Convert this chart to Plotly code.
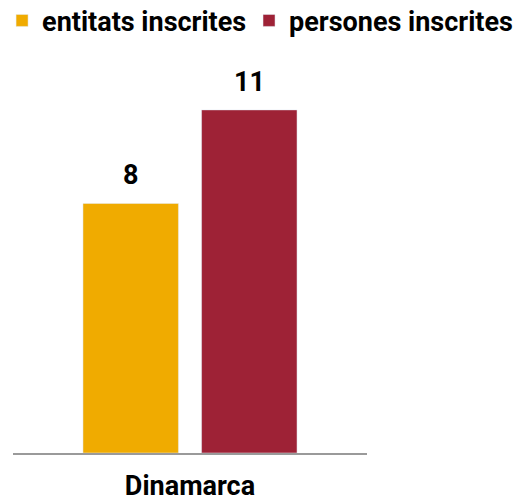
import plotly.graph_objects as go

categories = ["Dinamarca"]
series_names = ["entitats inscrites", "persones inscrites"]
entitats = [8]
persones = [11]
colors = ["#F0AB00", "#9E2236"]

font_bold = dict(family="Roboto", size=27, color="#000000", weight="bold")

fig = go.Figure()
fig.add_trace(go.Bar(x=categories, y=entitats, name=series_names[0],
                     marker_color=colors[0], legend="legend"))
fig.add_trace(go.Bar(x=categories, y=persones, name=series_names[1],
                     marker_color=colors[1], legend="legend2"))

for vals, shift in [(entitats, -59), (persones, 59)]:
    for c, v in zip(categories, vals):
        fig.add_annotation(x=c, y=v, text=str(v), showarrow=False, yanchor="bottom",
                           xshift=shift, yshift=10, font=font_bold)

legend_common = dict(orientation="h", yref="container", y=0.958, yanchor="middle",
                     xref="container", font=font_bold,
                     itemclick=False, itemdoubleclick=False, bgcolor="rgba(0,0,0,0)")

fig.update_layout(
    width=516, height=497,
    margin=dict(l=13, r=149, t=60, b=44, autoexpand=False),
    paper_bgcolor="white", plot_bgcolor="white",
    barmode="group", bargap=0.33, bargroupgap=0.195,
    showlegend=True,
    legend=dict(legend_common, x=0.004, xanchor="left"),
    legend2=dict(legend_common, x=0.4826, xanchor="left"),
    xaxis=dict(showline=True, linecolor="#9a9a9a", linewidth=2, ticks="",
               tickfont=font_bold, showgrid=False, ticklabelstandoff=8,
               automargin=False),
    yaxis=dict(range=[0, 12.6], visible=False, showgrid=False, automargin=False),
)

fig.write_html("out.html", config={"displayModeBar": False},
               post_script="document.body.style.margin='0';document.body.style.overflow='hidden';")
